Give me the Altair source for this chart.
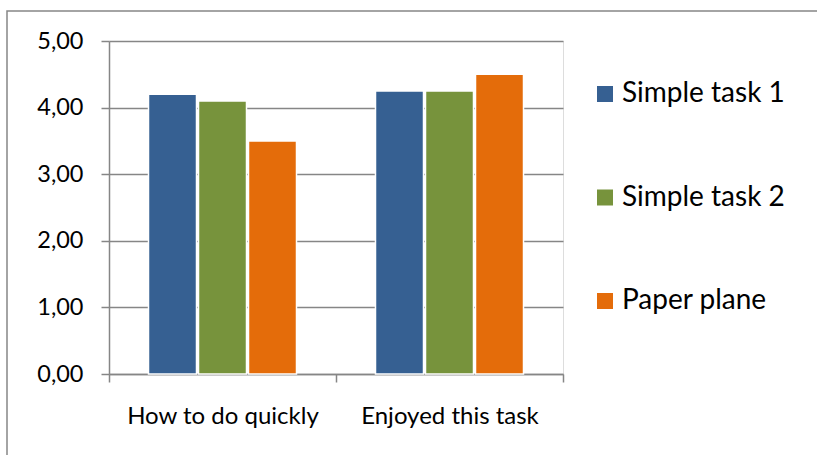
import altair as alt
import pandas as pd

categories = ["How to do quickly", "Enjoyed this task"]
series = ["Simple task 1", "Simple task 2", "Paper plane"]
colors = ["#366092", "#77933C", "#E46C0A"]
values = {
    "Simple task 1": [4.20, 4.25],
    "Simple task 2": [4.10, 4.25],
    "Paper plane": [3.50, 4.50],
}

rows = []
for s in series:
    for c, v in zip(categories, values[s]):
        rows.append({"category": c, "series": s, "value": v})
df = pd.DataFrame(rows)

FONT = "Lato"
W, H = 454, 333

bars = alt.Chart(df).mark_bar(stroke="white", strokeWidth=1.5).encode(
    x=alt.X("category:N", sort=categories, title=None,
            scale=alt.Scale(paddingInner=0, paddingOuter=0),
            axis=alt.Axis(labelAngle=0, labelFontSize=24, labelFont=FONT, labelColor="#000",
                          labelPadding=22, labelLimit=0, tickBand="extent", tickSize=8,
                          tickColor="#868686", domainColor="#868686",
                          tickWidth=1.5, domainWidth=1.5, grid=False)),
    xOffset=alt.XOffset("series:N", sort=series,
                        scale=alt.Scale(paddingInner=0.04, paddingOuter=0.79)),
    y=alt.Y("value:Q", title=None,
            scale=alt.Scale(domain=[0, 5], nice=False),
            axis=alt.Axis(values=[0, 1, 2, 3, 4, 5], labelExpr="replace(format(datum.value, '.2f'), '.', ',')",
                          labelFontSize=23.5, labelFont=FONT, labelColor="#000", labelPadding=18,
                          tickSize=8, tickColor="#868686", domainColor="#868686",
                          tickWidth=1.5, domainWidth=1.5,
                          gridColor="#868686", gridWidth=1.5)),
    color=alt.Color("series:N", sort=series, title=None,
                    scale=alt.Scale(domain=series, range=colors),
                    legend=alt.Legend(orient="none", legendX=482, legendY=39,
                                      labelFontSize=28, labelFont=FONT, labelColor="#000",
                                      labelLimit=0,
                                      symbolType="square", symbolSize=256, symbolStrokeWidth=0,
                                      rowPadding=75.5, labelOffset=3)),
)

border = alt.Chart(pd.DataFrame({"a": [0]})).mark_rect(
    fill=None, stroke="#868686", strokeWidth=1.5, clip=False
).encode(x=alt.value(-102), x2=alt.value(W + 280), y=alt.value(-30), y2=alt.value(H + 100))

chart = alt.layer(border, bars).properties(
    width=W, height=H,
    autosize=alt.AutoSizeParams(type="none"),
    padding={"left": 109, "top": 41, "right": 254, "bottom": 81},
).configure_view(stroke=None).configure(background="white")

chart.save("out.html", embed_options={"renderer": "svg", "actions": False})
